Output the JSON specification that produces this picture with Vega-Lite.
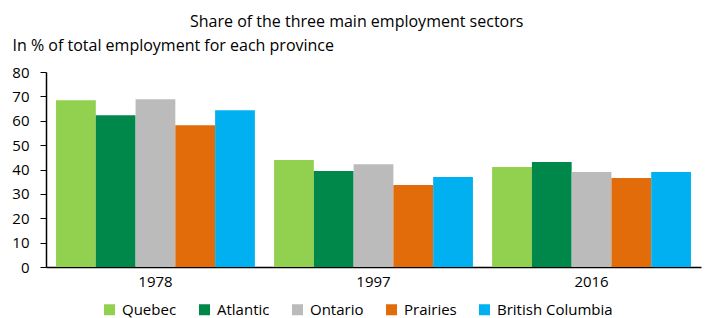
{
  "$schema": "https://vega.github.io/schema/vega-lite/v6.json",
  "width": 655,
  "height": 195,
  "autosize": {"type": "none"},
  "padding": {"left": 46, "top": 72, "right": 4, "bottom": 51},
  "background": "white",
  "title": {
    "text": "Share of the three main employment sectors",
    "anchor": "start",
    "frame": "group",
    "dx": 144,
    "font": "Open Sans",
    "fontSize": 16,
    "fontWeight": "normal",
    "color": "#000000",
    "offset": 7
  },
  "data": {
    "values": [
      {"year": "1978", "region": "Quebec", "value": 68.4},
      {"year": "1978", "region": "Atlantic", "value": 62.3},
      {"year": "1978", "region": "Ontario", "value": 68.8},
      {"year": "1978", "region": "Prairies", "value": 58.2},
      {"year": "1978", "region": "British Columbia", "value": 64.3},
      {"year": "1997", "region": "Quebec", "value": 43.9},
      {"year": "1997", "region": "Atlantic", "value": 39.4},
      {"year": "1997", "region": "Ontario", "value": 42.2},
      {"year": "1997", "region": "Prairies", "value": 33.6},
      {"year": "1997", "region": "British Columbia", "value": 36.9},
      {"year": "2016", "region": "Quebec", "value": 41.0},
      {"year": "2016", "region": "Atlantic", "value": 43.1},
      {"year": "2016", "region": "Ontario", "value": 39.0},
      {"year": "2016", "region": "Prairies", "value": 36.5},
      {"year": "2016", "region": "British Columbia", "value": 39.0}
    ]
  },
  "mark": {"type": "bar"},
  "encoding": {
    "x": {
      "field": "year",
      "type": "nominal",
      "scale": {"paddingInner": 0.088, "paddingOuter": 0.046},
      "axis": {
        "title": null,
        "labelAngle": 0,
        "ticks": false,
        "domainColor": "#000000",
        "domainWidth": 1.5,
        "labelFont": "Open Sans",
        "labelFontSize": 15,
        "labelColor": "#000000",
        "labelPadding": 7
      }
    },
    "xOffset": {
      "field": "region",
      "type": "nominal",
      "sort": ["Quebec", "Atlantic", "Ontario", "Prairies", "British Columbia"],
      "scale": {"paddingInner": 0, "paddingOuter": 0}
    },
    "y": {
      "field": "value",
      "type": "quantitative",
      "scale": {"domain": [0, 80], "nice": false},
      "axis": {
        "values": [0, 10, 20, 30, 40, 50, 60, 70, 80],
        "grid": false,
        "title": "In % of total employment for each province",
        "titleAngle": 0,
        "titleAlign": "left",
        "titleBaseline": "alphabetic",
        "titleX": -34,
        "titleY": -22,
        "titleFont": "Open Sans",
        "titleFontSize": 16,
        "titleFontWeight": "normal",
        "titleColor": "#000000",
        "domainColor": "#000000",
        "domainWidth": 1.5,
        "tickColor": "#000000",
        "tickSize": 6,
        "labelPadding": 11,
        "labelFont": "Open Sans",
        "labelFontSize": 15,
        "labelColor": "#000000"
      }
    },
    "color": {
      "field": "region",
      "type": "nominal",
      "sort": ["Quebec", "Atlantic", "Ontario", "Prairies", "British Columbia"],
      "scale": {
        "domain": ["Quebec", "Atlantic", "Ontario", "Prairies", "British Columbia"],
        "range": ["#92D050", "#00884A", "#BBBBBB", "#E36C0A", "#00B0F0"]
      },
      "legend": {
        "title": null,
        "orient": "none",
        "direction": "horizontal",
        "legendX": 56,
        "legendY": 230,
        "symbolType": "square",
        "symbolSize": 121,
        "symbolStrokeWidth": 0,
        "labelFont": "Open Sans",
        "labelFontSize": 15,
        "labelColor": "#000000",
        "labelOffset": 5,
        "columnPadding": 20
      }
    }
  },
  "config": {"view": {"stroke": null}}
}
